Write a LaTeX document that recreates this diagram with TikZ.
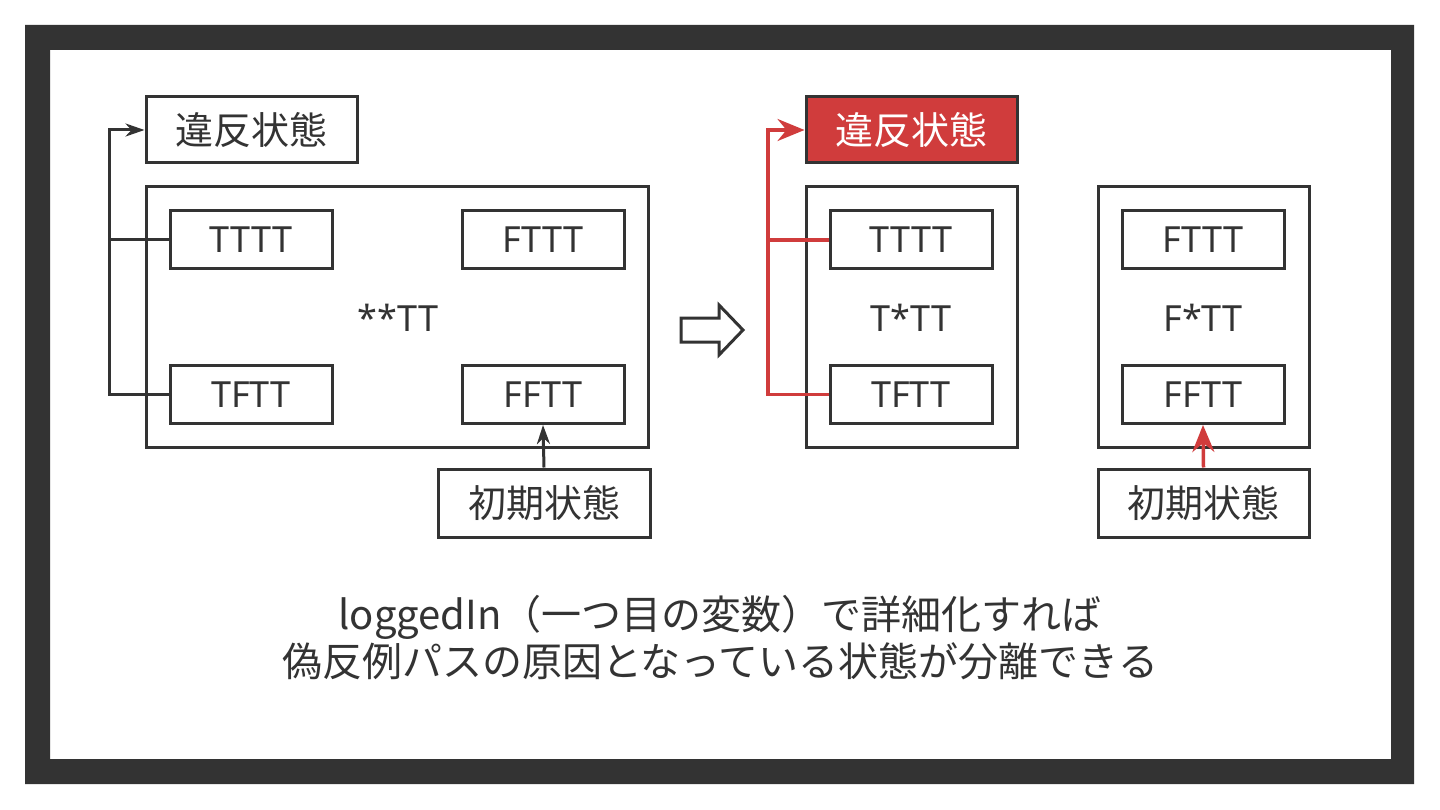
\documentclass[tikz,border=0pt]{standalone}
\usepackage{fontspec}
\setmainfont{Noto Sans CJK JP}
\newfontfamily\latfont{Noto Sans}
\usetikzlibrary{arrows.meta}
\definecolor{ink}{HTML}{333333}
\definecolor{alert}{HTML}{D03C3C}
\tikzset{
  box/.style={draw=ink, line width=3pt, fill=white, text=ink, inner sep=0pt, font=\fontsize{38}{40}\selectfont},
  small/.style={box, minimum width=162pt, minimum height=58pt, font=\latfont\fontsize{36}{40}\selectfont},
  group/.style={draw=ink, line width=3pt, inner sep=0pt},
  label/.style={box, minimum width=211pt, minimum height=66pt},
  midtext/.style={text=ink, font=\latfont\fontsize{36}{40}\selectfont},
  conn/.style={draw=ink, line width=3pt},
  redconn/.style={draw=alert, line width=3.5pt},
  tip/.style={-{Stealth[length=19pt,width=13pt,inset=6pt]}},
  redtip/.style={-{Stealth[length=27pt,width=22pt,inset=9pt]}},
}
\begin{document}
\begin{tikzpicture}[x=1pt,y=-1pt]
\useasboundingbox (0,0) rectangle (1440,810);
\fill[white] (0,0) rectangle (1440,810);
\fill[ink, even odd rule] (25,25) rectangle (1414,784) (50,50) rectangle (1391,759);

% left panel
\node[group, minimum width=502pt, minimum height=260pt] (big1) at (397,317) {};
\node[label] (v1) at (251.5,130) {違反状態};
\node[small] (tttt1) at (251,240) {TTTT};
\node[small] (fttt1) at (543,240) {FTTT};
\node[small] (tftt1) at (251,394.5) {TFTT};
\node[small] (fftt1) at (543,394.5) {FFTT};
\node[midtext] (star1) at (398,318) {**TT};
\node[label, minimum width=212pt, minimum height=68pt] (init1) at (544,503) {初期状態};
\coordinate (j1) at (109,394.5);
\draw[conn, tip] (tftt1.west) -- (j1) |- (v1.west);
\draw[conn] (tttt1.west) -- (j1 |- tttt1.west);
\draw[conn, tip] (init1.north) -- (fftt1.south);

% hollow arrow
\draw[draw=ink, line width=3pt, line join=miter, fill=white] (681,318) -- (719,318) -- (719,305) -- (743,330) -- (719,355) -- (719,342) -- (681,342) -- cycle;

% middle panel
\node[group, minimum width=211pt, minimum height=260pt] (big2) at (911.5,317) {};
\node[label, fill=alert, text=white] (v2) at (911.5,130) {違反状態};
\node[small] (tttt2) at (911,240) {TTTT};
\node[small] (tftt2) at (911,394.5) {TFTT};
\node[midtext] (star2) at (911,318) {T*TT};
\coordinate (j2) at (768,394.5);
\draw[redconn, redtip] (tftt2.west) -- (j2) |- (v2.west);
\draw[redconn] (tttt2.west) -- (j2 |- tttt2.west);

% right panel
\node[group, minimum width=211pt, minimum height=260pt] (big3) at (1203.5,317) {};
\node[small] (fttt3) at (1203,240) {FTTT};
\node[small] (fftt3) at (1203,394.5) {FFTT};
\node[midtext] (star3) at (1203,318) {F*TT};
\node[label, minimum height=68pt] (init3) at (1203.5,503) {初期状態};
\draw[redconn, redtip] (init3.north) -- (fftt3.south);

% caption
\node[text=ink, align=center, font=\fontsize{40}{47}\selectfont] (cap) at (720,638) {loggedIn（一つ目の変数）で詳細化すれば\\偽反例パスの原因となっている状態が分離できる};
\end{tikzpicture}
\end{document}
